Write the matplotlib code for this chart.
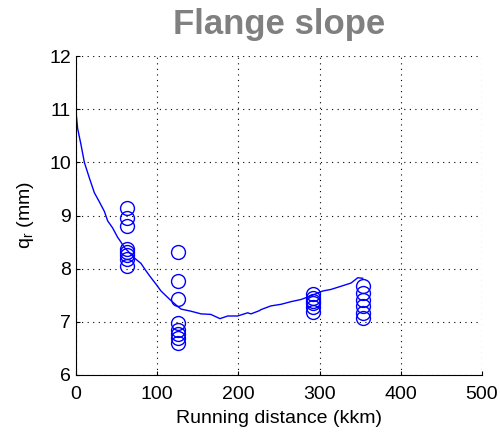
import numpy as np
import matplotlib.pyplot as plt

plt.rcParams['font.family'] = ['Liberation Sans', 'DejaVu Sans']

# model curve (running distance in kkm, flange slope qr in mm)
curve_x = [0, 2, 6.2, 10.3, 16.4, 22.6, 28.7, 34.9, 39, 45, 51.3, 55.4, 59.5,
           66, 72, 80, 86.2, 92.4, 98.5, 104.7, 110.8, 117, 123, 129.3, 141.6,
           154, 166, 177.3, 186.8, 199, 211.4, 215.5, 225.8, 227.8, 240, 252.5,
           264.8, 277, 289.4, 303.8, 314, 326.4, 338.7, 347, 353]
curve_y = [10.95, 10.64, 10.33, 10.0, 9.71, 9.43, 9.26, 9.08, 8.9, 8.77, 8.59,
           8.5, 8.4, 8.3, 8.2, 8.1, 7.96, 7.83, 7.71, 7.58, 7.49, 7.4, 7.32,
           7.24, 7.2, 7.15, 7.14, 7.06, 7.11, 7.11, 7.17, 7.15, 7.21, 7.23,
           7.30, 7.33, 7.38, 7.42, 7.49, 7.58, 7.61, 7.67, 7.73, 7.83, 7.82]

# measurements
meas_x = [63] * 8 + [125] * 8 + [291.5] * 6 + [354] * 6
meas_y = [9.15, 8.96, 8.80, 8.37, 8.31, 8.25, 8.18, 8.06,
          8.32, 7.76, 7.43, 6.97, 6.85, 6.77, 6.69, 6.60,
          7.52, 7.45, 7.40, 7.35, 7.27, 7.18,
          7.67, 7.54, 7.42, 7.29, 7.17, 7.07]

fig = plt.figure(figsize=(5, 4.32), dpi=100)
ax = fig.add_axes([0.152, 0.132, 0.812, 0.738])

ax.plot(curve_x, curve_y, color='#0000ff', lw=1)
ax.plot(meas_x, meas_y, 'o', mfc='none', mec='#0000ff', ms=10, mew=1)

ax.set_xlim(0, 500)
ax.set_ylim(6, 12)
ax.set_xticks(np.arange(0, 501, 100))
ax.set_yticks(np.arange(6, 13, 1))
ax.grid(True, color='black', linestyle=(0, (1, 4)), lw=0.8)
ax.spines['top'].set_visible(False)
ax.spines['right'].set_visible(False)
ax.tick_params(direction='in', labelsize=14, length=3)
ax.tick_params(axis='x', pad=8)

ax.set_xlabel('Running distance (kkm)', fontsize=14, labelpad=5)
ax.set_ylabel('q$_\\mathregular{r}$ (mm)', fontsize=14, labelpad=10)
ax.set_title('Flange slope', fontsize=25, fontweight='bold', color='#808080', pad=16)

fig.savefig('out.png')
